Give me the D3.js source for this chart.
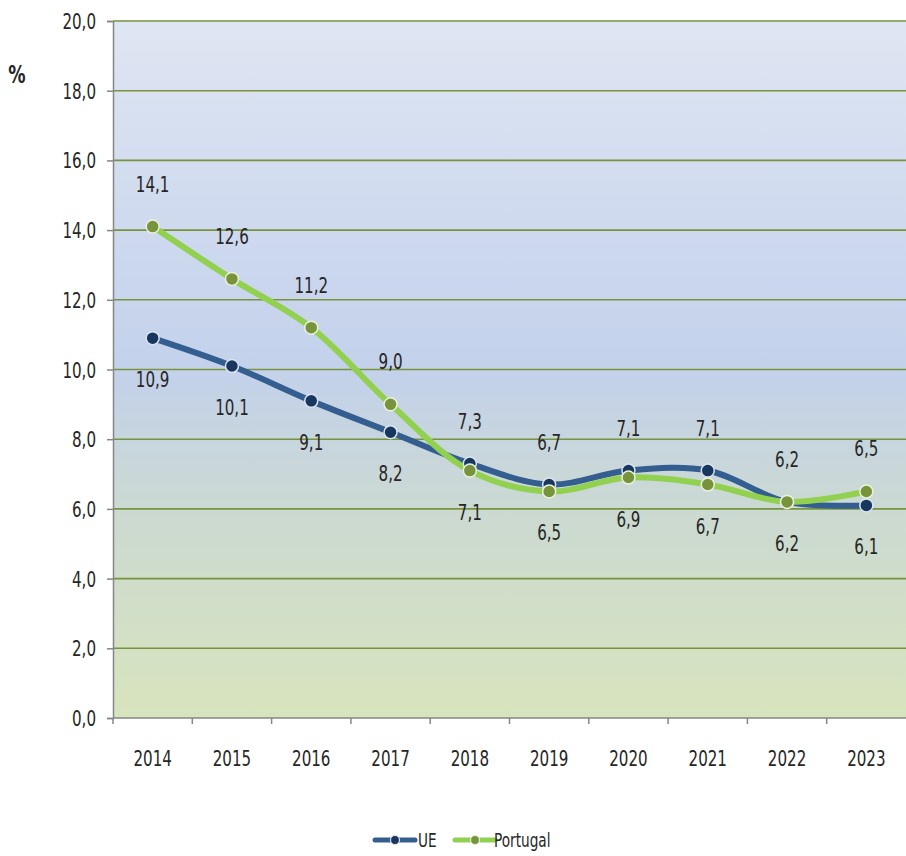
<!DOCTYPE html>
<html>
<head>
<meta charset="utf-8">
<script src="https://cdn.jsdelivr.net/npm/d3@7"></script>
<style>
  body { margin: 0; background: #fff; }
  text { font-family: "DejaVu Sans Condensed", "Open Sans", sans-serif; fill: #262626; }
</style>
</head>
<body>
<svg id="chart" width="906" height="856"></svg>
<script>
const years = ["2014", "2015", "2016", "2017", "2018", "2019", "2020", "2021", "2022", "2023"];
const ue = [10.9, 10.1, 9.1, 8.2, 7.3, 6.7, 7.1, 7.1, 6.2, 6.1];
const portugal = [14.1, 12.6, 11.2, 9.0, 7.1, 6.5, 6.9, 6.7, 6.2, 6.5];
const yTicks = [0, 2, 4, 6, 8, 10, 12, 14, 16, 18, 20];

const width = 906, height = 856;
const marginLeft = 113, marginRight = 0, marginTop = 21, marginBottom = 138;
const sx = 0.8; // horizontal squeeze so the text looks narrow like the original
const fs = 21;

const svg = d3.select("#chart");
const fmt = v => d3.format(".1f")(v).replace(".", ",");

// put a text at (px, py) squeezed horizontally
function place(sel, px, py) {
  sel.attr("transform", (d, i) => `translate(${px(d, i)},${py(d, i)}) scale(${sx},1)`);
}

const x = d3.scaleBand(years, [marginLeft, width - marginRight]);
const y = d3.scaleLinear([0, 20], [height - marginBottom, marginTop]);

// background gradient
const defs = svg.append("defs");
const grad = defs.append("linearGradient").attr("id", "bg")
    .attr("x1", 0).attr("y1", 0).attr("x2", 0).attr("y2", 1);
grad.append("stop").attr("offset", "0%").attr("stop-color", "#dfe6f3");
grad.append("stop").attr("offset", "50%").attr("stop-color", "#c3d1eb");
grad.append("stop").attr("offset", "72%").attr("stop-color", "#ccdad0");
grad.append("stop").attr("offset", "100%").attr("stop-color", "#d8e4bd");

svg.append("rect")
    .attr("x", marginLeft).attr("y", marginTop)
    .attr("width", width - marginLeft - marginRight)
    .attr("height", height - marginBottom - marginTop)
    .attr("fill", "url(#bg)");

// gridlines
svg.append("g")
  .selectAll("line")
  .data(yTicks.filter(d => d > 0))
  .join("line")
    .attr("x1", marginLeft).attr("x2", width - marginRight)
    .attr("y1", d => y(d)).attr("y2", d => y(d))
    .attr("stroke", "#77933c").attr("stroke-width", 1.6);

// y axis
svg.append("g")
    .attr("transform", `translate(${marginLeft},0)`)
    .call(d3.axisLeft(y).tickValues(yTicks).tickFormat(fmt).tickSize(6).tickPadding(10))
    .call(g => g.selectAll(".domain, .tick line").attr("stroke", "#868686").attr("stroke-width", 1.5))
    .call(g => g.selectAll(".tick text")
        .attr("font-size", fs).attr("fill", "#262626")
        .attr("x", 0).attr("dy", "0.36em")
        .attr("transform", `translate(-17,0) scale(${sx},1)`));

// x axis with ticks between categories
const xAxisG = svg.append("g")
    .attr("transform", `translate(0,${height - marginBottom})`);
xAxisG.append("line")
    .attr("x1", marginLeft).attr("x2", width - marginRight)
    .attr("stroke", "#868686").attr("stroke-width", 1.5);
xAxisG.selectAll(".sep")
  .data(years)
  .join("line")
    .attr("x1", d => x(d)).attr("x2", d => x(d))
    .attr("y1", 0).attr("y2", 6)
    .attr("stroke", "#868686").attr("stroke-width", 1.5);
xAxisG.selectAll(".lbl")
  .data(years)
  .join("text")
    .attr("text-anchor", "middle")
    .attr("font-size", fs)
    .text(d => d)
    .call(place, d => x(d) + x.bandwidth() / 2, () => 48);

// % label
svg.append("text")
    .attr("text-anchor", "middle")
    .attr("font-size", 24).attr("font-weight", "bold")
    .text("%")
    .call(place, () => 17, () => 83);

const series = [
  { name: "UE", values: ue, other: portugal, line: "#335e8f", dot: "#17375e", ring: "#dbe4f0" },
  { name: "Portugal", values: portugal, other: ue, line: "#92d050", dot: "#77933c", ring: "#ebf1de" }
];

const cx = i => x(years[i]) + x.bandwidth() / 2;
const line = d3.line()
    .x((d, i) => cx(i))
    .y(d => y(d))
    .curve(d3.curveCatmullRom.alpha(0.5));

series.forEach(s => {
  svg.append("path")
      .attr("d", line(s.values))
      .attr("fill", "none")
      .attr("stroke", s.line)
      .attr("stroke-width", 6)
      .attr("stroke-linejoin", "round");
});

series.forEach(s => {
  svg.append("g")
    .selectAll("circle")
    .data(s.values)
    .join("circle")
      .attr("cx", (d, i) => cx(i))
      .attr("cy", d => y(d))
      .attr("r", 6.5)
      .attr("fill", s.dot)
      .attr("stroke", s.ring)
      .attr("stroke-width", 1.5);
});

// data labels: UE above when >= Portugal, otherwise below
series.forEach(s => {
  svg.append("g")
    .selectAll("text")
    .data(s.values)
    .join("text")
      .attr("text-anchor", "middle")
      .attr("font-size", fs)
      .text(d => fmt(d))
      .call(place, (d, i) => cx(i), (d, i) => {
        const above = s.name === "UE" ? d >= s.other[i] : d > s.other[i];
        return above ? y(d) - 35 : y(d) + 49;
      });
});

// legend
const legend = svg.append("g").attr("transform", "translate(0,840)");
const items = [
  { s: series[0], x0: 375, tx: 418 },
  { s: series[1], x0: 455, tx: 494 }
];
items.forEach(it => {
  legend.append("line")
      .attr("x1", it.x0).attr("x2", it.x0 + 40)
      .attr("stroke", it.s.line).attr("stroke-width", 5)
      .attr("stroke-linecap", "round");
  legend.append("circle")
      .attr("cx", it.x0 + 20).attr("r", 4.5)
      .attr("fill", it.s.dot).attr("stroke", it.s.ring).attr("stroke-width", 1.2);
  legend.append("text")
      .attr("font-size", 19)
      .text(it.s.name)
      .call(place, () => it.tx, () => 7);
});
</script>
</body>
</html>
